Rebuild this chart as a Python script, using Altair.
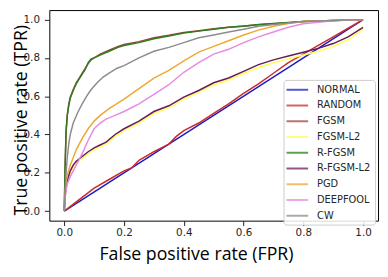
import altair as alt
import pandas as pd

series = ["NORMAL", "RANDOM", "FGSM", "FGSM-L2", "R-FGSM", "R-FGSM-L2", "PGD", "DEEPFOOL", "CW"]
colors = ["#1c1cc4", "#cc2a2a", "#a0453f", "#ffff55", "#2e7d1e", "#6a1a5c", "#f0a830", "#e58be5", "#8c8c8c"]

normal_fpr = [0, 1.0]
normal_tpr = [0, 1.0]

random_fpr = [0, 0.05, 0.1, 0.15, 0.2, 0.225, 0.25, 0.3, 0.35, 0.375, 0.4, 0.45, 0.5, 0.55, 0.6, 0.65, 0.7, 0.75, 0.8, 0.85, 0.9, 0.95, 1.0]
random_tpr = [0, 0.06, 0.12, 0.165, 0.21, 0.225, 0.265, 0.31, 0.35, 0.39, 0.42, 0.46, 0.51, 0.56, 0.615, 0.665, 0.72, 0.775, 0.82, 0.865, 0.91, 0.955, 1.0]

rfgsm_fpr = [0, 0.003, 0.006, 0.01, 0.015, 0.02, 0.03, 0.04, 0.05, 0.06, 0.07, 0.08, 0.09, 0.1, 0.12, 0.15, 0.18, 0.2, 0.25, 0.3, 0.35, 0.4, 0.45, 0.5, 0.55, 0.6, 0.65, 0.7, 0.75, 0.8, 0.85, 0.9, 0.95, 1.0]
rfgsm_tpr = [0, 0.25, 0.42, 0.5, 0.55, 0.59, 0.63, 0.665, 0.69, 0.715, 0.74, 0.775, 0.795, 0.80, 0.815, 0.835, 0.855, 0.865, 0.88, 0.9, 0.915, 0.93, 0.94, 0.95, 0.96, 0.965, 0.975, 0.98, 0.985, 0.99, 0.993, 0.996, 0.998, 1.0]
fgsm_tpr = [0, 0.24, 0.41, 0.5, 0.56, 0.595, 0.635, 0.67, 0.695, 0.72, 0.745, 0.77, 0.79, 0.80, 0.82, 0.84, 0.86, 0.87, 0.885, 0.905, 0.918, 0.933, 0.942, 0.952, 0.96, 0.967, 0.973, 0.978, 0.984, 0.99, 0.993, 0.996, 0.998, 1.0]

cw_fpr = [0, 0.003, 0.006, 0.01, 0.015, 0.02, 0.03, 0.045, 0.06, 0.075, 0.09, 0.11, 0.13, 0.15, 0.175, 0.2, 0.25, 0.3, 0.35, 0.4, 0.45, 0.5, 0.55, 0.6, 0.65, 0.7, 0.8, 0.9, 1.0]
cw_tpr = [0, 0.1, 0.2, 0.28, 0.35, 0.4, 0.46, 0.515, 0.56, 0.6, 0.635, 0.67, 0.70, 0.72, 0.745, 0.76, 0.80, 0.835, 0.855, 0.88, 0.905, 0.92, 0.935, 0.95, 0.965, 0.975, 0.99, 0.995, 1.0]

pgd_fpr = [0, 0.003, 0.006, 0.01, 0.02, 0.03, 0.04, 0.06, 0.08, 0.1, 0.12, 0.15, 0.2, 0.25, 0.3, 0.35, 0.4, 0.45, 0.5, 0.55, 0.6, 0.65, 0.7, 0.75, 0.8, 0.9, 1.0]
pgd_tpr = [0, 0.1, 0.15, 0.19, 0.24, 0.28, 0.32, 0.38, 0.43, 0.47, 0.50, 0.535, 0.585, 0.64, 0.695, 0.735, 0.785, 0.83, 0.86, 0.89, 0.92, 0.945, 0.965, 0.98, 0.99, 0.996, 1.0]

deepfool_fpr = [0, 0.003, 0.006, 0.01, 0.02, 0.03, 0.04, 0.06, 0.08, 0.1, 0.12, 0.14, 0.17, 0.2, 0.25, 0.3, 0.35, 0.4, 0.45, 0.5, 0.55, 0.6, 0.65, 0.7, 0.75, 0.8, 0.9, 1.0]
deepfool_tpr = [0, 0.07, 0.11, 0.14, 0.18, 0.21, 0.24, 0.30, 0.37, 0.43, 0.46, 0.48, 0.50, 0.52, 0.56, 0.61, 0.66, 0.725, 0.775, 0.82, 0.845, 0.88, 0.91, 0.935, 0.96, 0.978, 0.994, 1.0]

l2_fpr = [0, 0.003, 0.006, 0.01, 0.02, 0.03, 0.04, 0.06, 0.08, 0.1, 0.12, 0.14, 0.17, 0.2, 0.25, 0.3, 0.35, 0.4, 0.45, 0.5, 0.55, 0.6, 0.65, 0.7, 0.75, 0.8, 0.85, 0.9, 0.95, 1.0]
rfgsm_l2_tpr = [0, 0.08, 0.13, 0.16, 0.21, 0.24, 0.26, 0.285, 0.31, 0.33, 0.345, 0.36, 0.40, 0.43, 0.47, 0.52, 0.55, 0.595, 0.63, 0.67, 0.695, 0.73, 0.765, 0.79, 0.81, 0.83, 0.85, 0.875, 0.91, 0.96]
fgsm_l2_tpr = [0, 0.08, 0.12, 0.15, 0.2, 0.23, 0.25, 0.275, 0.30, 0.32, 0.335, 0.35, 0.39, 0.42, 0.46, 0.51, 0.54, 0.585, 0.62, 0.66, 0.685, 0.72, 0.75, 0.775, 0.795, 0.815, 0.835, 0.86, 0.895, 0.95]

curves = {
    "NORMAL": (normal_fpr, normal_tpr),
    "RANDOM": (random_fpr, random_tpr),
    "FGSM": (rfgsm_fpr, fgsm_tpr),
    "FGSM-L2": (l2_fpr, fgsm_l2_tpr),
    "R-FGSM": (rfgsm_fpr, rfgsm_tpr),
    "R-FGSM-L2": (l2_fpr, rfgsm_l2_tpr),
    "PGD": (pgd_fpr, pgd_tpr),
    "DEEPFOOL": (deepfool_fpr, deepfool_tpr),
    "CW": (cw_fpr, cw_tpr),
}

rows = []
for s in series:
    xs, ys = curves[s]
    for i, (x, y) in enumerate(zip(xs, ys)):
        rows.append({"series": s, "fpr": x, "tpr": y, "idx": i})
df = pd.DataFrame(rows)

ticks = [0, 0.2, 0.4, 0.6, 0.8, 1.0]

chart = alt.Chart(df).mark_line(strokeWidth=1.5).encode(
    x=alt.X("fpr:Q",
            scale=alt.Scale(domain=[-0.05, 1.05], nice=False, zero=False),
            axis=alt.Axis(values=ticks, format=".1f", title="False positive rate (FPR)",
                          grid=False, domain=False, tickSize=5, tickColor="#222222",
                          labelPadding=2, labelFont="DejaVu Sans", labelFontSize=10.5,
                          labelColor="#262626", titleFont="Open Sans", titleFontSize=18,
                          titleFontWeight="normal", titleColor="#000000",
                          titleX=149, titleY=39, titleBaseline="alphabetic", titleAlign="center")),
    y=alt.Y("tpr:Q",
            scale=alt.Scale(domain=[-0.05, 1.05], nice=False, zero=False),
            axis=alt.Axis(values=ticks, format=".1f", title="True positive rate (TPR)",
                          grid=False, domain=False, tickSize=5, tickColor="#222222",
                          labelPadding=5, labelFont="DejaVu Sans", labelFontSize=10.5,
                          labelColor="#262626", titleFont="Open Sans", titleFontSize=18,
                          titleFontWeight="normal", titleColor="#000000",
                          titleAngle=270, titleX=-23, titleY=111.5,
                          titleBaseline="alphabetic", titleAlign="center")),
    color=alt.Color("series:N", sort=series,
                    scale=alt.Scale(domain=series, range=colors),
                    legend=alt.Legend(title=None, orient="none", legendX=238, legendY=71,
                                      symbolType="M-1.4,0H3", symbolSize=100,
                                      symbolStrokeWidth=2, symbolOpacity=0.75,
                                      labelFont="DejaVu Sans", labelFontSize=10,
                                      labelColor="#262626", labelOffset=18,
                                      padding=4, rowPadding=5,
                                      fillColor="rgba(255,255,255,0.85)",
                                      strokeColor="#cccccc", cornerRadius=3)),
    order="idx:Q",
).properties(
    width=334, height=214,
    autosize=alt.AutoSizeParams(type="none"),
    padding={"left": 42, "top": 0, "right": 2, "bottom": 45},
).configure_view(stroke="#000000", strokeWidth=1)

chart.save("out.html", embed_options={"renderer": "svg", "actions": False})
